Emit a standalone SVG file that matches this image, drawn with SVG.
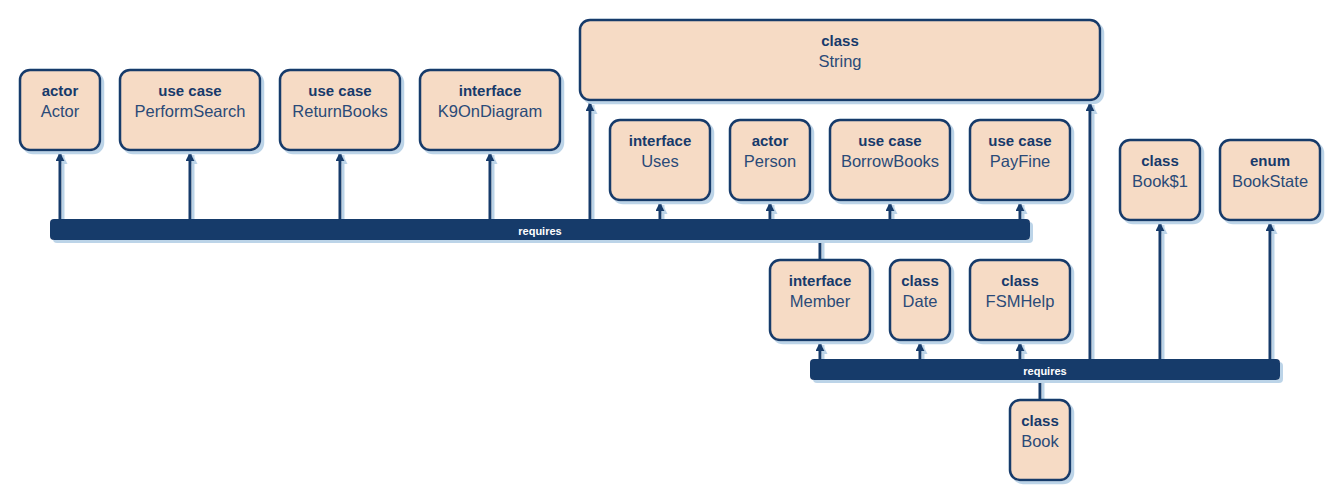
<svg xmlns="http://www.w3.org/2000/svg" width="1340" height="500" viewBox="0 0 1340 500">
<defs>
<filter id="sh" x="-10%" y="-10%" width="130%" height="130%">
<feOffset in="SourceAlpha" dx="3" dy="3" result="o"/>
<feFlood flood-color="#bcd4e8" result="c"/>
<feComposite in="c" in2="o" operator="in" result="s"/>
<feMerge><feMergeNode in="s"/><feMergeNode in="SourceGraphic"/></feMerge>
</filter>
<filter id="shl" filterUnits="userSpaceOnUse" x="0" y="0" width="1340" height="500">
<feOffset in="SourceAlpha" dx="3" dy="3" result="o"/>
<feFlood flood-color="#bcd4e8" result="c"/>
<feComposite in="c" in2="o" operator="in" result="s"/>
<feMerge><feMergeNode in="s"/><feMergeNode in="SourceGraphic"/></feMerge>
</filter>
<marker id="ah" markerWidth="9" markerHeight="9" refX="10" refY="5" orient="auto" markerUnits="userSpaceOnUse" viewBox="0 0 10 10">
<path d="M0,0 L10,5 L0,10 Z" fill="#173a6b"/>
</marker>
<style>
.box{fill:#f6dbc5;stroke:#173a6b;stroke-width:2.5;filter:url(#sh)}
.t{font-family:"Liberation Sans",Arial,sans-serif;font-size:15px;font-weight:bold;fill:#173a6b;text-anchor:middle}
.n{font-family:"Liberation Sans",Arial,sans-serif;font-size:16.5px;fill:#2a4a78;text-anchor:middle}
.bar{fill:#173a6b;filter:url(#sh)}
.bt{font-family:"Liberation Sans",Arial,sans-serif;font-size:11px;font-weight:bold;fill:#ffffff;text-anchor:middle}
.lines{filter:url(#shl)}
.ln{stroke:#173a6b;stroke-width:3;fill:none}
.ar{marker-end:url(#ah)}
</style>
</defs>
<rect width="1340" height="500" fill="#ffffff"/>

<g id="connectors">
<g class="lines">
<path class="ln ar" d="M60,220 V152"/>
<path class="ln ar" d="M190,220 V152"/>
<path class="ln ar" d="M340,220 V152"/>
<path class="ln ar" d="M490,220 V152"/>
<path class="ln ar" d="M590,220 V102"/>
<path class="ln ar" d="M660,220 V202"/>
<path class="ln ar" d="M770,220 V202"/>
<path class="ln ar" d="M890,220 V202"/>
<path class="ln ar" d="M1020,220 V202"/>
<path class="ln" d="M820,240 V260"/>
<path class="ln ar" d="M820,360 V342"/>
<path class="ln ar" d="M920,360 V342"/>
<path class="ln ar" d="M1020,360 V342"/>
<path class="ln ar" d="M1090,360 V102"/>
<path class="ln ar" d="M1160,360 V222"/>
<path class="ln ar" d="M1270,360 V222"/>
<path class="ln" d="M1040,380 V400"/>
</g>
<g id="bar1"><rect class="bar" x="50" y="219" width="980" height="21" rx="4"/><text class="bt" x="540" y="235">requires</text></g>
<g id="bar2"><rect class="bar" x="810" y="359" width="470" height="21" rx="4"/><text class="bt" x="1045" y="375">requires</text></g>
</g>

<g id="Actor"><rect class="box" x="20" y="70" width="80" height="80" rx="10"/><text class="t" x="60" y="96">actor</text><text class="n" x="60" y="117">Actor</text></g>
<g id="PerformSearch"><rect class="box" x="120" y="70" width="140" height="80" rx="10"/><text class="t" x="190" y="96">use case</text><text class="n" x="190" y="117">PerformSearch</text></g>
<g id="ReturnBooks"><rect class="box" x="280" y="70" width="120" height="80" rx="10"/><text class="t" x="340" y="96">use case</text><text class="n" x="340" y="117">ReturnBooks</text></g>
<g id="K9OnDiagram"><rect class="box" x="420" y="70" width="140" height="80" rx="10"/><text class="t" x="490" y="96">interface</text><text class="n" x="490" y="117">K9OnDiagram</text></g>
<g id="String"><rect class="box" x="580" y="20" width="520" height="80" rx="10"/><text class="t" x="840" y="46">class</text><text class="n" x="840" y="67">String</text></g>
<g id="Uses"><rect class="box" x="610" y="120" width="100" height="80" rx="10"/><text class="t" x="660" y="146">interface</text><text class="n" x="660" y="167">Uses</text></g>
<g id="Person"><rect class="box" x="730" y="120" width="80" height="80" rx="10"/><text class="t" x="770" y="146">actor</text><text class="n" x="770" y="167">Person</text></g>
<g id="BorrowBooks"><rect class="box" x="830" y="120" width="120" height="80" rx="10"/><text class="t" x="890" y="146">use case</text><text class="n" x="890" y="167">BorrowBooks</text></g>
<g id="PayFine"><rect class="box" x="970" y="120" width="100" height="80" rx="10"/><text class="t" x="1020" y="146">use case</text><text class="n" x="1020" y="167">PayFine</text></g>
<g id="Book1"><rect class="box" x="1120" y="140" width="80" height="80" rx="10"/><text class="t" x="1160" y="166">class</text><text class="n" x="1160" y="187">Book$1</text></g>
<g id="BookState"><rect class="box" x="1220" y="140" width="100" height="80" rx="10"/><text class="t" x="1270" y="166">enum</text><text class="n" x="1270" y="187">BookState</text></g>
<g id="Member"><rect class="box" x="770" y="260" width="100" height="80" rx="10"/><text class="t" x="820" y="286">interface</text><text class="n" x="820" y="307">Member</text></g>
<g id="Date"><rect class="box" x="890" y="260" width="60" height="80" rx="10"/><text class="t" x="920" y="286">class</text><text class="n" x="920" y="307">Date</text></g>
<g id="FSMHelp"><rect class="box" x="970" y="260" width="100" height="80" rx="10"/><text class="t" x="1020" y="286">class</text><text class="n" x="1020" y="307">FSMHelp</text></g>
<g id="Book"><rect class="box" x="1010" y="400" width="60" height="80" rx="10"/><text class="t" x="1040" y="426">class</text><text class="n" x="1040" y="447">Book</text></g>
</svg>
